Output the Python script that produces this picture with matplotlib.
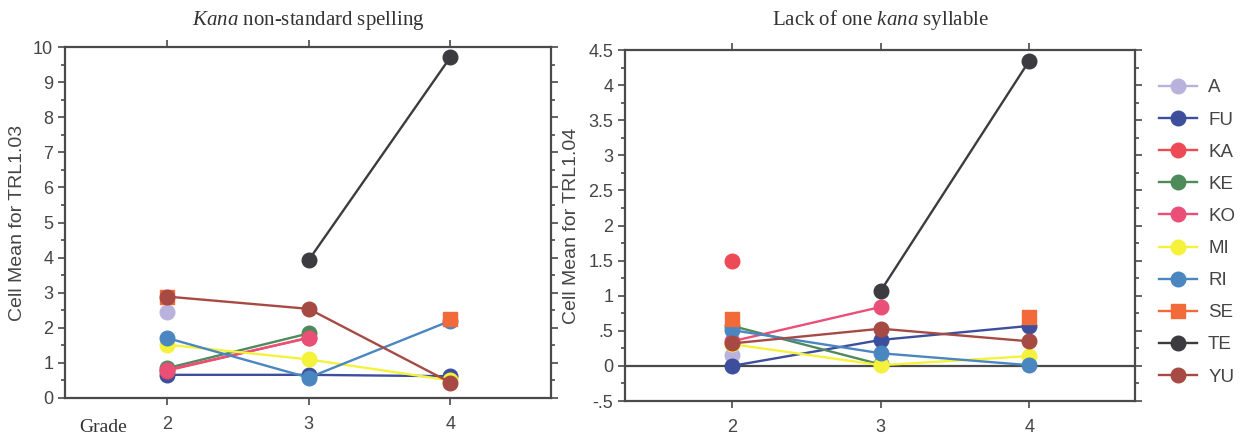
import numpy as np
import matplotlib
matplotlib.use("Agg")
import matplotlib.pyplot as plt
from matplotlib.ticker import FixedLocator, MultipleLocator, FuncFormatter

plt.rcParams["font.family"] = ["Liberation Sans", "DejaVu Sans"]
plt.rcParams["mathtext.fontset"] = "custom"
plt.rcParams["mathtext.rm"] = "Liberation Serif"
plt.rcParams["mathtext.it"] = "Liberation Serif:italic"

nan = np.nan
grades = [2, 3, 4]
names = ["A", "FU", "KA", "KE", "KO", "MI", "RI", "SE", "TE", "YU"]
colors = ["#b9b2dc", "#3d4f9c", "#ee4a55", "#4e8a5a", "#ea4f78",
          "#f5f23c", "#4a86c0", "#f26a3a", "#3c3c40", "#a84a44"]
markers = ["o", "o", "o", "o", "o", "o", "o", "s", "o", "o"]

# TRL1.03 - Kana non-standard spelling
trl103 = {
    "A":  [2.46, nan, nan],
    "FU": [0.66, 0.66, 0.62],
    "KA": [0.78, 1.72, nan],
    "KE": [0.85, 1.84, nan],
    "KO": [0.80, 1.71, nan],
    "MI": [1.52, 1.10, 0.50],
    "RI": [1.71, 0.58, 2.20],
    "SE": [2.89, nan, 2.24],
    "TE": [nan, 3.93, 9.71],
    "YU": [2.89, 2.54, 0.44],
}
# TRL1.04 - Lack of one kana syllable
trl104 = {
    "A":  [0.16, nan, nan],
    "FU": [0.00, 0.37, 0.57],
    "KA": [1.50, nan, nan],
    "KE": [0.57, 0.02, nan],
    "KO": [0.35, 0.84, nan],
    "MI": [0.31, 0.01, 0.14],
    "RI": [0.51, 0.18, 0.01],
    "SE": [0.67, nan, 0.70],
    "TE": [nan, 1.07, 4.35],
    "YU": [0.32, 0.53, 0.35],
}

SPINE = "#4a4a4a"
TXT = "#454545"

fig = plt.figure(figsize=(12.5, 4.37), dpi=100)
axL = fig.add_axes([65/1250, 1-398/437, (551-65)/1250, (398-47)/437])
axR = fig.add_axes([625/1250, 1-401/437, (1135-625)/1250, (401-50)/437])


def short(v, pos):
    if abs(v - round(v)) < 1e-9:
        return "%d" % round(v)
    s = "%.1f" % v
    return s.replace("0.", ".")


def style(ax, ylo, yhi, major, minor, ylabel):
    ax.set_xlim(1.28, 4.71)
    ax.set_ylim(ylo, yhi)
    ax.xaxis.set_major_locator(FixedLocator(grades))
    ax.yaxis.set_major_locator(MultipleLocator(major))
    ax.yaxis.set_minor_locator(MultipleLocator(minor))
    ax.yaxis.set_major_formatter(FuncFormatter(short))
    for s in ax.spines.values():
        s.set_color(SPINE)
        s.set_linewidth(1.6)
    ax.tick_params(which="both", direction="out", top=True, right=True,
                   color=SPINE, width=1.2, labelcolor=TXT, labelsize=13)
    ax.tick_params(which="major", length=5)
    ax.tick_params(which="minor", length=3)
    ax.tick_params(axis="x", pad=8)
    ax.set_ylabel(ylabel, fontsize=14, color=TXT)


def draw(ax, data):
    lines = []
    for n, c, m in zip(names, colors, markers):
        ln, = ax.plot(grades, data[n], color=c, marker=m, markersize=10.5,
                      linewidth=1.7, label=n, clip_on=False, zorder=3)
        lines.append(ln)
    return lines


draw(axL, trl103)
style(axL, 0, 10, 1, 0.5, "Cell Mean for TRL1.03")
axL.yaxis.set_label_coords(-0.08, 0.5)
axL.set_title(r"$\mathit{Kana}$ non-standard spelling", fontsize=15,
              family="Liberation Serif", color="#333333", pad=16)

axR.axhline(0, color=SPINE, linewidth=1.6, zorder=2)
handles = draw(axR, trl104)
style(axR, -0.5, 4.5, 0.5, 0.25, "Cell Mean for TRL1.04")
axR.yaxis.set_label_coords(-0.088, 0.5)
axR.set_title(r"Lack of one $\mathit{kana}$ syllable", fontsize=15,
              family="Liberation Serif", color="#333333", pad=18)

fig.text(103/1250, 1-427/437, "Grade", fontsize=14, family="Liberation Serif",
         color="#333333", ha="center", va="center")

fig.legend(handles=handles, loc="center left", bbox_to_anchor=(0.914, 0.468),
           frameon=False, fontsize=13.5, labelspacing=0.8, handlelength=2.0,
           handletextpad=0.6, labelcolor=TXT)

fig.savefig("out.png", dpi=100)
